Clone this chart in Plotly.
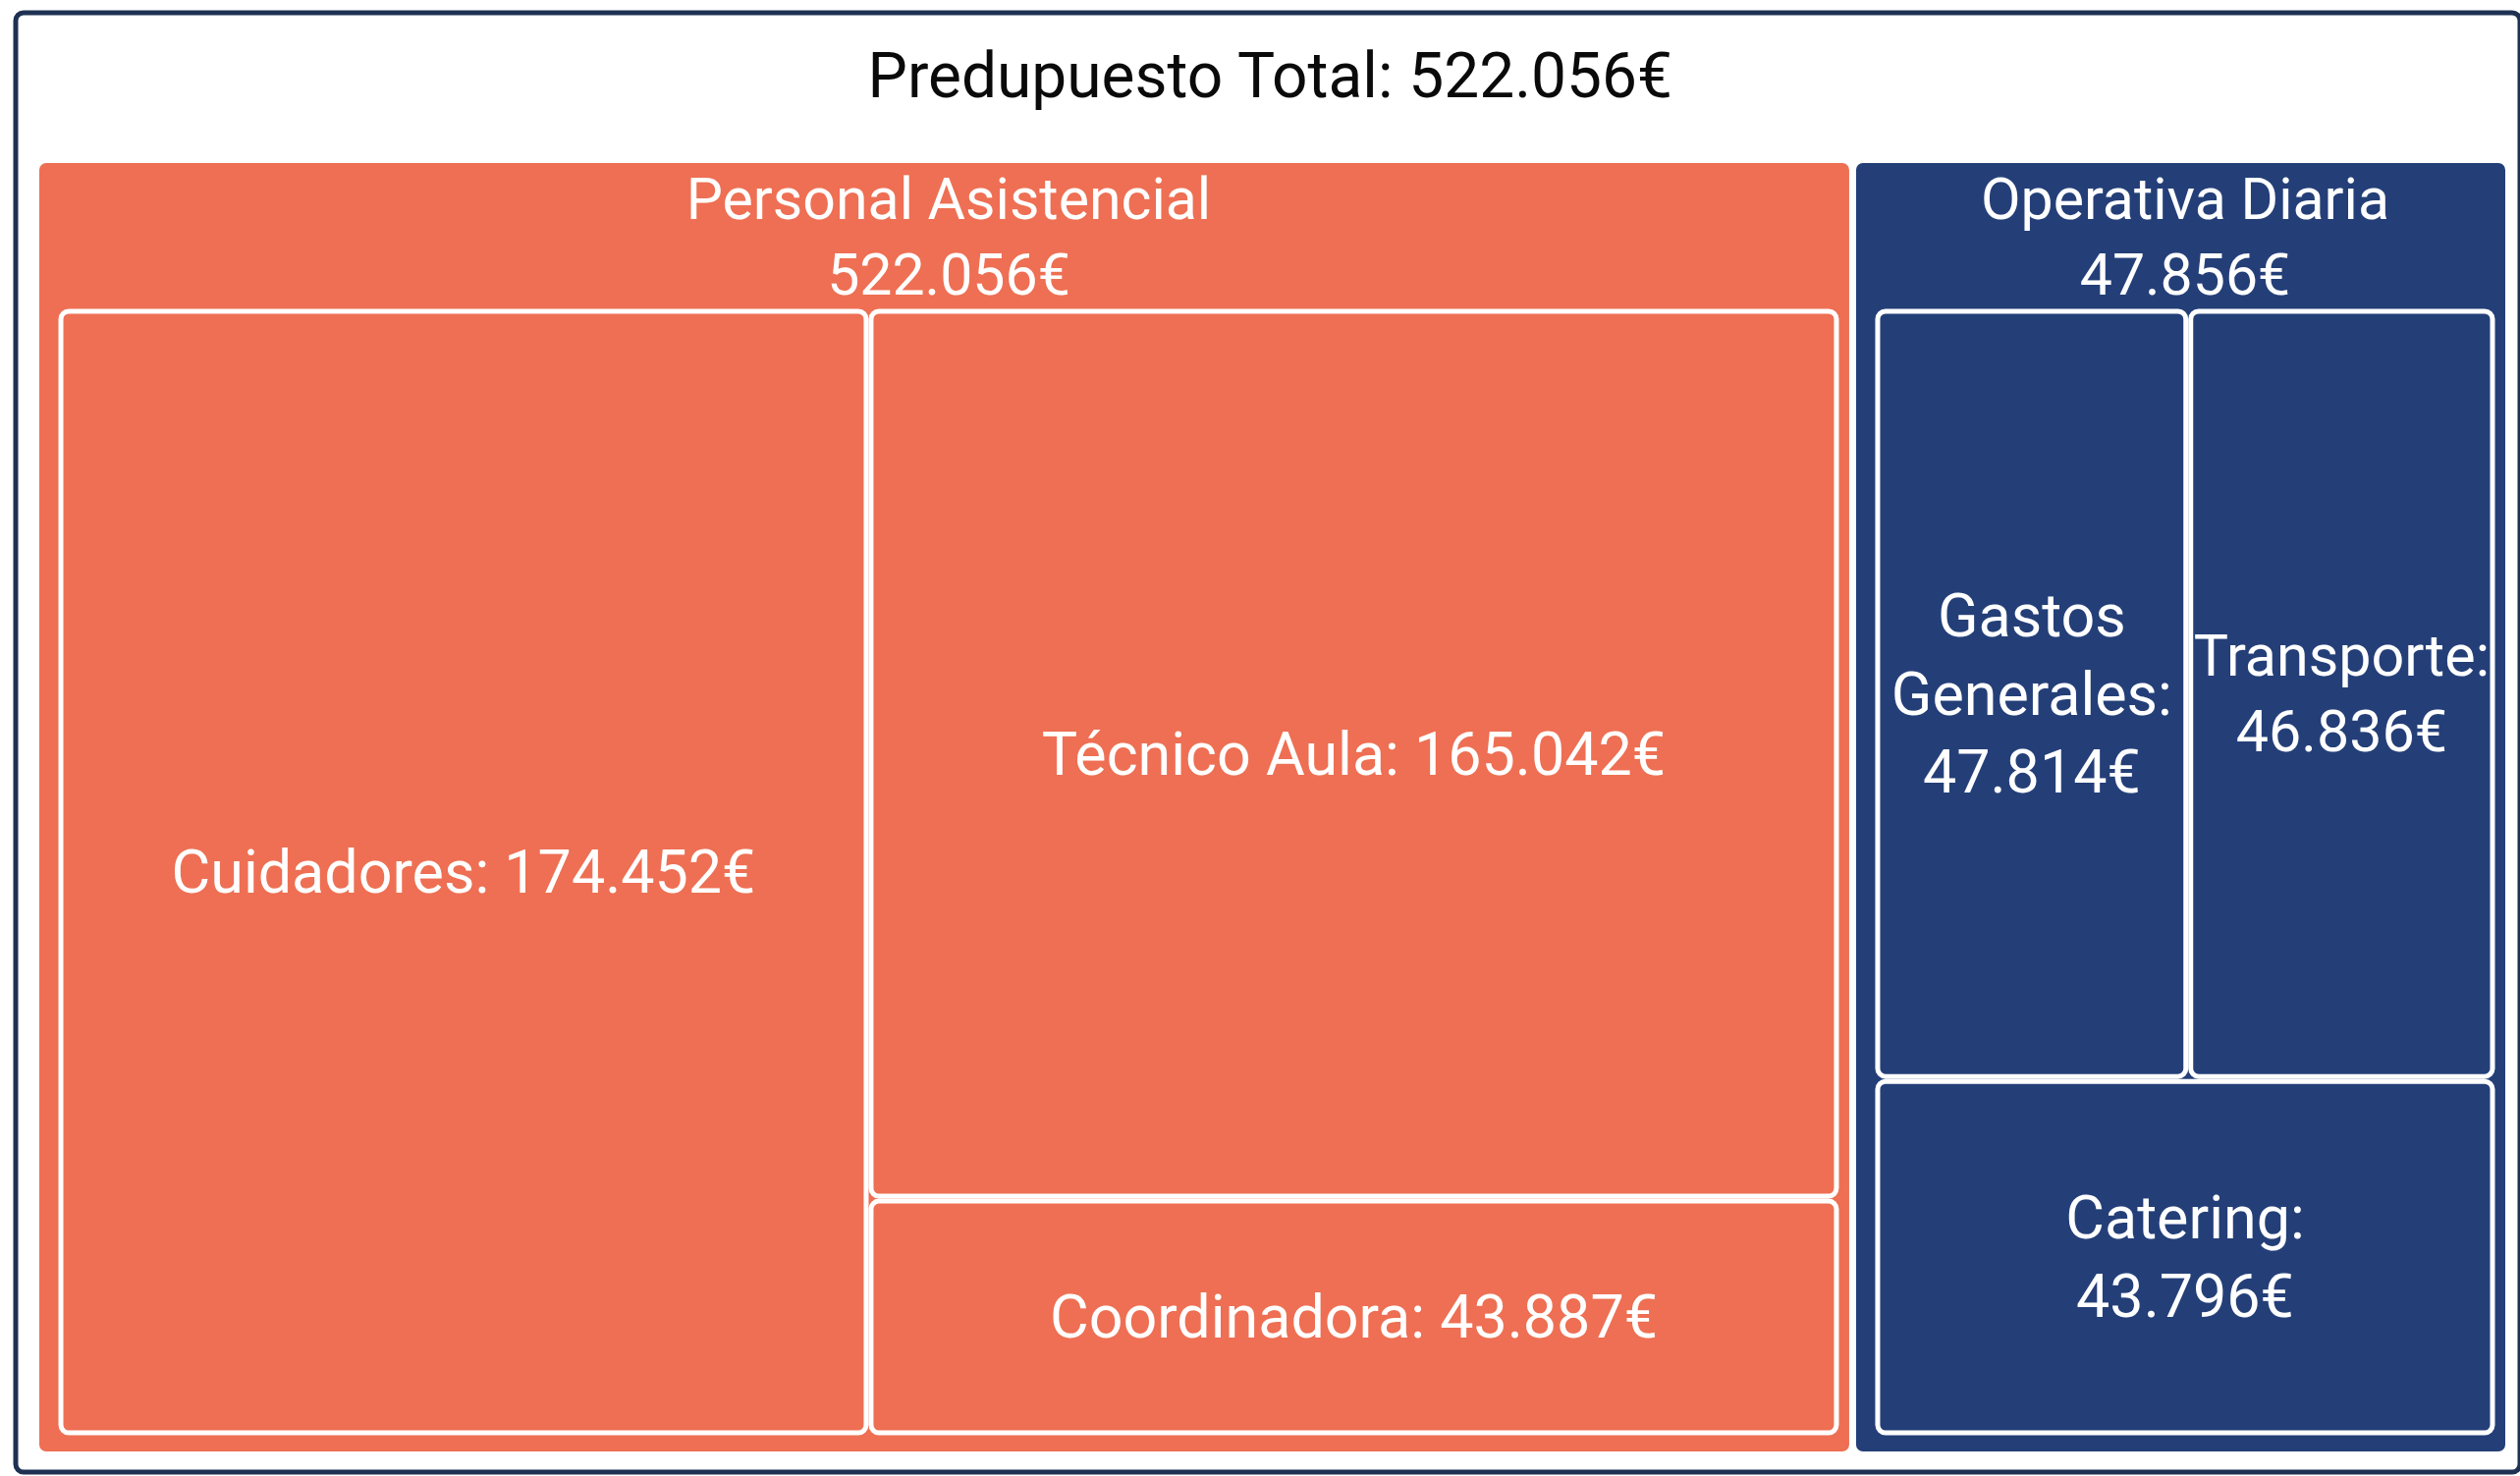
import plotly.graph_objects as go

# ---- data ----
title_text = "Predupuesto Total: 522.056€"

group_ids = ["personal", "operativa"]
group_names = ["Personal Asistencial", "Operativa Diaria"]
group_totals = ["522.056€", "47.856€"]

item_ids = ["cuidadores", "tecnico", "coordinadora",
            "gastos", "transporte", "catering"]
item_groups = ["personal", "personal", "personal",
               "operativa", "operativa", "operativa"]
item_names = ["Cuidadores", "Técnico Aula", "Coordinadora",
              "Gastos<br>Generales", "Transporte", "Catering"]
item_values = [174452, 165042, 43887, 47814, 46836, 43796]
item_value_text = ["174.452€", "165.042€", "43.887€",
                   "47.814€", "46.836€", "43.796€"]
# leaves whose label is written with the amount on its own line
item_break = [False, False, False, True, True, True]

# ---- style ----
ORANGE = "#EE6F53"
NAVY = "#243F78"
FRAME = "#1E3152"
group_color = {"personal": ORANGE, "operativa": NAVY}

ids = ["root"] + group_ids + item_ids
parents = [""] + ["root"] * len(group_ids) + item_groups
values = [0] * (1 + len(group_ids)) + item_values
labels = [""] + [f"{n}<br>{t}" for n, t in zip(group_names, group_totals)] + \
         [n.replace("<br>", " ") for n in item_names]
texts = [""] + ["" for _ in group_ids] + \
        [f"{n}:<br>{v}" if b else f"{n}: {v}"
         for n, v, b in zip(item_names, item_value_text, item_break)]

colors = ["#FFFFFF"] + [group_color[g] for g in group_ids] + \
         [group_color[g] for g in item_groups]
line_colors = [FRAME] + ["#FFFFFF"] * (len(ids) - 1)
line_widths = [5] + [2] * len(group_ids) + [5] * len(item_ids)
font_sizes = [60] + [59] * len(group_ids) + [61] * len(item_ids)
font_colors = ["#111111"] + ["#FFFFFF"] * (len(ids) - 1)

font = dict(family="Roboto", size=font_sizes, color=font_colors)

fig = go.Figure(go.Treemap(
    ids=ids,
    labels=labels,
    parents=parents,
    values=values,
    branchvalues="remainder",
    text=texts,
    textinfo="text",
    texttemplate="%{text}",
    textposition="middle center",
    textfont=font,
    insidetextfont=font,
    outsidetextfont=font,
    marker=dict(
        colors=colors,
        line=dict(color=line_colors, width=line_widths),
        pad=dict(t=152, l=23, r=14, b=20),
        cornerradius=8,
    ),
    tiling=dict(packing="squarify", squarifyratio=1.35, pad=5),
    pathbar=dict(visible=False),
    sort=True,
    hoverinfo="skip",
))

fig.update_layout(
    width=2566,
    height=1503,
    margin=dict(l=16, r=0, t=13, b=4),
    paper_bgcolor="#FFFFFF",
    plot_bgcolor="#FFFFFF",
    title=dict(
        text=title_text,
        x=0.504, xanchor="center",
        y=1 - 77 / 1503, yanchor="middle",
        font=dict(family="Roboto", size=64, color="#0A0A0A"),
    ),
    showlegend=False,
)

fig.write_html("out.html")
